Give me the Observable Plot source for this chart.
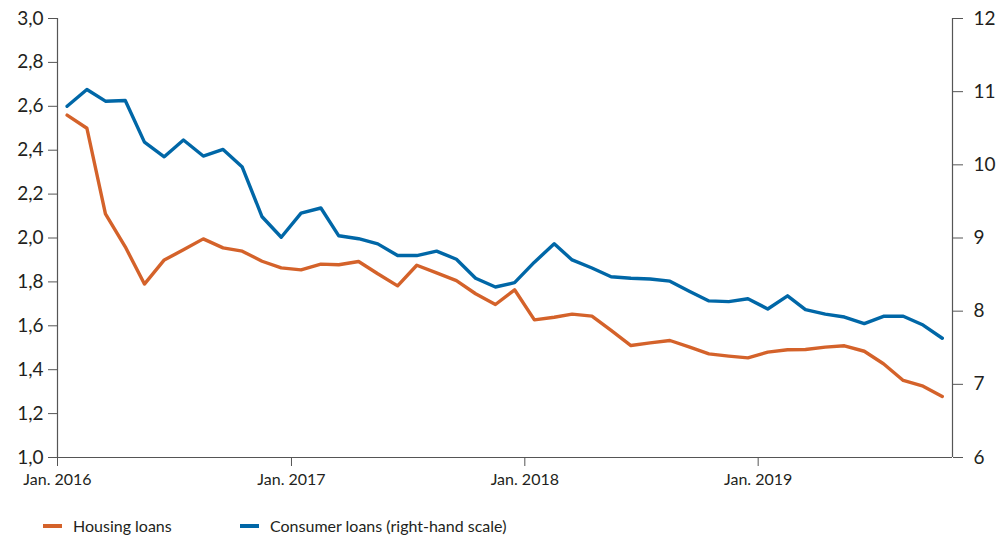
<!DOCTYPE html>
<html>
<head>
<meta charset="utf-8">
<script src="https://cdn.jsdelivr.net/npm/d3@7"></script>
<script src="https://cdn.jsdelivr.net/npm/@observablehq/plot@0.6"></script>
<style>
  body { margin: 0; background: #fff; font-family: Lato, "Open Sans", sans-serif; color: #231f20; }
  #wrap { position: relative; width: 1006px; height: 539px; }
  .leg { position: absolute; top: 516px; font-size: 16px; display: flex; align-items: center; white-space: nowrap; }
  .sw { display: inline-block; width: 19px; height: 4px; margin-right: 11px; }
</style>
</head>
<body>
<div id="wrap"></div>
<script>
// Monthly data, Jan. 2016 – Oct. 2019
const startMonth = "2016-01";
const housingLoans = [
  2.56, 2.50, 2.11, 1.96, 1.79, 1.90, 1.946, 1.996, 1.955, 1.94, 1.894, 1.864,
  1.855, 1.881, 1.878, 1.893, 1.837, 1.782, 1.876, 1.841, 1.806, 1.746, 1.697, 1.764,
  1.627, 1.639, 1.653, 1.644, 1.579, 1.510, 1.522, 1.533, 1.503, 1.472, 1.462, 1.454,
  1.480, 1.491, 1.492, 1.503, 1.509, 1.484, 1.427, 1.351, 1.325, 1.278
];
const consumerLoans = [
  10.80, 11.03, 10.87, 10.88, 10.31, 10.11, 10.34, 10.12, 10.21, 9.97, 9.29, 9.01,
  9.34, 9.41, 9.03, 8.99, 8.92, 8.76, 8.76, 8.82, 8.71, 8.45, 8.33, 8.39,
  8.67, 8.92, 8.70, 8.59, 8.47, 8.45, 8.44, 8.41, 8.27, 8.14, 8.13, 8.17,
  8.03, 8.21, 8.02, 7.96, 7.92, 7.83, 7.93, 7.93, 7.81, 7.63
];
const leftTicks = [1.0, 1.2, 1.4, 1.6, 1.8, 2.0, 2.2, 2.4, 2.6, 2.8, 3.0];
const rightTicks = [6, 7, 8, 9, 10, 11, 12];
const xTickYears = [2016, 2017, 2018, 2019];
const seriesNames = ["Housing loans", "Consumer loans (right-hand scale)"];
const colors = ["#d4622a", "#0067a7"];

const months = d3.utcMonth.range(new Date(startMonth + "-01T00:00:00Z"), new Date("2019-11-01T00:00:00Z"));
const mid = d => new Date(Date.UTC(d.getUTCFullYear(), d.getUTCMonth(), 16));
const rMin = 6, rMax = 12, lMin = 1, lMax = 3;
const toLeft = v => lMin + (v - rMin) * (lMax - lMin) / (rMax - rMin);
const toRight = v => rMin + (v - lMin) * (rMax - rMin) / (lMax - lMin);

const housing = months.map((d, i) => ({date: mid(d), value: housingLoans[i]}));
const consumer = months.map((d, i) => ({date: mid(d), value: toLeft(consumerLoans[i])}));
const xTicks = xTickYears.map(y => new Date(Date.UTC(y, 0, 1)));
const xDomain = [months[0], new Date("2019-11-01T00:00:00Z")];
const axisColor = "#555";

const chart = Plot.plot({
  width: 1006,
  height: 500,
  marginTop: 18,
  marginBottom: 43,
  marginLeft: 57,
  marginRight: 54,
  style: {fontFamily: "Lato, 'Open Sans', sans-serif", color: "#231f20", background: "#fff"},
  x: {type: "utc", domain: xDomain},
  y: {domain: [lMin, lMax]},
  marks: [
    Plot.ruleY([lMin], {stroke: axisColor, strokeWidth: 1.2}),
    Plot.ruleX([xDomain[0], xDomain[1]], {stroke: axisColor, strokeWidth: 1.2}),
    Plot.axisY({anchor: "left", ticks: leftTicks, tickSize: 9, tickPadding: 5, stroke: axisColor,
      fontSize: 19, fill: "#231f20", tickFormat: d => d.toFixed(1).replace(".", ","), label: null}),
    Plot.axisY({anchor: "right", ticks: rightTicks.map(toLeft), tickSize: 10, tickPadding: 11, stroke: axisColor,
      fontSize: 19, fill: "#231f20", tickFormat: d => String(Math.round(toRight(d))), label: null}),
    Plot.axisX({ticks: xTicks, tickSize: 9, tickPadding: 7, stroke: axisColor, fontSize: 16, fill: "#231f20",
      tickFormat: d => "Jan. " + d.getUTCFullYear(), label: null}),
    Plot.line(housing, {x: "date", y: "value", stroke: colors[0], strokeWidth: 3.4}),
    Plot.line(consumer, {x: "date", y: "value", stroke: colors[1], strokeWidth: 3.4})
  ]
});

const wrap = document.getElementById("wrap");
wrap.appendChild(chart);
const legPos = [43, 240];
seriesNames.forEach((name, i) => {
  const d = document.createElement("div");
  d.className = "leg";
  d.style.left = legPos[i] + "px";
  d.innerHTML = `<span class="sw" style="background:${colors[i]}"></span><span>${name}</span>`;
  wrap.appendChild(d);
});
</script>
</body>
</html>
